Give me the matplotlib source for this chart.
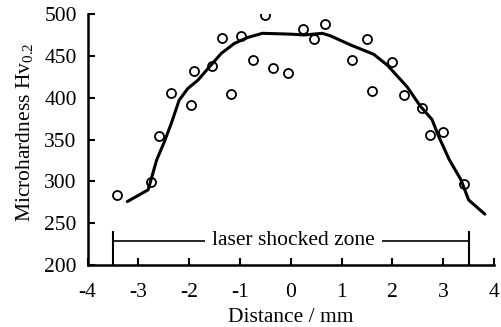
import numpy as np
import matplotlib
matplotlib.use("Agg")
import matplotlib.pyplot as plt

plt.rcParams['font.family'] = ['Liberation Serif', 'DejaVu Serif']
plt.rcParams['mathtext.fontset'] = 'custom'
plt.rcParams['mathtext.rm'] = 'Liberation Serif'
plt.rcParams['axes.unicode_minus'] = False

# measured points
dist = [-3.43, -2.76, -2.60, -2.36, -1.96, -1.91, -1.56, -1.35, -1.17, -0.98,
        -0.75, -0.50, -0.35, -0.05, 0.24, 0.45, 0.67, 1.20, 1.49, 1.60,
        1.99, 2.23, 2.58, 2.74, 3.00, 3.41]
hv = [284, 299, 354, 406, 391, 432, 438, 472, 405, 474,
      445, 499, 435, 429, 482, 470, 488, 445, 470, 408,
      443, 403, 388, 355, 359, 297]

# fitted trend curve
fit_x = [-3.22, -2.81, -2.64, -2.50, -2.35, -2.20, -2.03, -1.83, -1.63, -1.37,
         -1.11, -0.85, -0.56, 0.0, 0.26, 0.62, 0.78, 1.18, 1.63, 1.90,
         2.29, 2.55, 2.78, 2.91, 3.12, 3.35, 3.50, 3.82]
fit_y = [276, 290, 326, 346, 370, 397, 411, 421, 435, 453,
         465, 472, 477, 476, 475, 477, 474, 463, 452, 439,
         413, 390, 374, 354, 326, 302, 278, 261]

zone = [-3.5, 3.5]
fs = 15.5

fig = plt.figure(figsize=(5.01, 3.27), dpi=100)
ax = fig.add_axes([0.175, 0.189, 0.811, 0.768])

ax.plot(fit_x, fit_y, color='black', lw=2.2, solid_capstyle='round')
ax.plot(dist, hv, 'o', mfc='none', mec='black', ms=6.5, mew=1.3)

# laser shocked zone marker
ax.plot([zone[0], zone[0]], [200, 240], color='black', lw=1.5)
ax.plot([zone[1], zone[1]], [200, 240], color='black', lw=1.5)
ax.plot(zone, [229, 229], color='black', lw=1.2)
ax.text(0.05, 229, 'laser shocked zone', ha='center', va='center', fontsize=fs,
        bbox=dict(facecolor='white', edgecolor='none', pad=5))

ax.set_xlim(-4, 4)
ax.set_ylim(200, 500)
ax.set_xticks(range(-4, 5))
ax.set_yticks(range(200, 501, 50))
ax.spines['top'].set_visible(False)
ax.spines['right'].set_visible(False)
for s in ['left', 'bottom']:
    ax.spines[s].set_linewidth(1.8)
ax.tick_params(direction='in', length=5, width=1.5, labelsize=fs)
ax.tick_params(axis='x', pad=13)
ax.tick_params(axis='y', pad=7.9)
ax.set_xlabel('Distance / mm', fontsize=fs, va='baseline')
ax.set_ylabel(r'Microhardness Hv$_{\mathrm{0.2}}$', fontsize=fs, va='baseline')
ax.xaxis.set_label_coords(0.5, -0.2256)
ax.yaxis.set_label_coords(-0.140, 0.53)

fig.savefig('out.png', dpi=100)
